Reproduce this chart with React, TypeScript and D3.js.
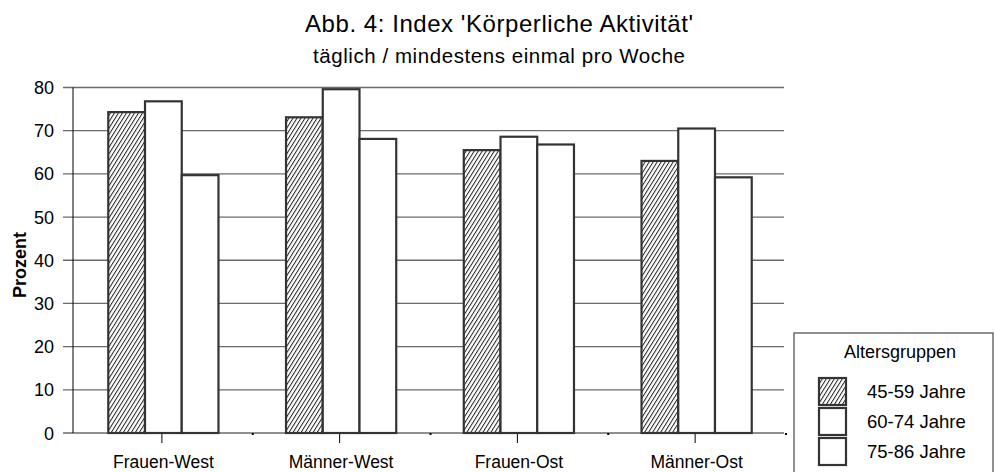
import React from "react";
import * as d3 from "d3";

const categories = ["Frauen-West", "Männer-West", "Frauen-Ost", "Männer-Ost"];
const seriesNames = ["45-59 Jahre", "60-74 Jahre", "75-86 Jahre"];
const values45_59 = [74.3, 73.1, 65.5, 63.0];
const values60_74 = [76.8, 79.6, 68.6, 70.5];
const values75_86 = [59.7, 68.1, 66.8, 59.2];
const yTicks = [0, 10, 20, 30, 40, 50, 60, 70, 80];
const titleText = "Abb. 4: Index 'Körperliche Aktivität'";
const subtitleText = "täglich / mindestens einmal pro Woche";
const yLabel = "Prozent";
const legendTitle = "Altersgruppen";

const W = 995;
const H = 472;
const FONT = "'Liberation Sans', Arial, Helvetica, sans-serif";

export default function App() {
  const series = [values45_59, values60_74, values75_86];
  const left = 73;
  const right = 784;
  const y = d3.scaleLinear().domain([0, 80]).range([433, 87.5]);
  const x0 = d3
    .scaleBand<string>()
    .domain(categories)
    .range([left, right])
    .paddingInner(0.38)
    .paddingOuter(0.19);
  const x1 = d3
    .scaleBand<string>()
    .domain(seriesNames)
    .range([0, x0.bandwidth()])
    .padding(0);
  const step = x0.step();
  const center = (c: string) => x0(c)! + x0.bandwidth() / 2;

  const fillFor = (i: number) => (i === 0 ? "url(#hatch)" : "#ffffff");

  return (
    <div style={{ position: "fixed", left: 0, top: 0 }}>
      <svg width={W} height={H} viewBox={`0 0 ${W} ${H}`} style={{ display: "block", background: "#fff" }}>
        <defs>
          <pattern id="hatch" patternUnits="userSpaceOnUse" width="3.4" height="4" patternTransform="rotate(32)">
            <rect width="3.4" height="4" fill="#fff" />
            <line x1="0.5" y1="0" x2="0.5" y2="4" stroke="#222" strokeWidth="1" />
          </pattern>
        </defs>
        <rect x={0} y={0} width={W} height={H} fill="#fff" />

        {/* title */}
        <text x={499} y={32} textAnchor="middle" fontFamily={FONT} fontSize={24} fill="#000"
          textLength={388} lengthAdjust="spacing">{titleText}</text>
        <text x={499} y={63} textAnchor="middle" fontFamily={FONT} fontSize={20.5} fill="#000"
          textLength={372} lengthAdjust="spacing">{subtitleText}</text>

        {/* gridlines */}
        {yTicks.map((t) => (
          <g key={t}>
            <line x1={63} x2={right} y1={y(t)} y2={y(t)} stroke="#6a6a6a" strokeWidth={1.3} />
            <text x={54} y={y(t) + 6.5} textAnchor="end" fontFamily={FONT} fontSize={18} fill="#000">{t}</text>
          </g>
        ))}
        {/* y axis */}
        <line x1={left} x2={left} y1={y(80)} y2={y(0)} stroke="#000" strokeWidth={1} />

        {/* x ticks at category centers and boundary dots */}
        {categories.map((c, i) => (
          <g key={c}>
            <line x1={center(c)} x2={center(c)} y1={y(0)} y2={y(0) + 10} stroke="#000" strokeWidth={1} />
            <rect x={left + step * (i + 1) + 1} y={y(0)} width={2} height={2} fill="#000" />
            <text x={center(c) + 1.5} y={468} textAnchor="middle" fontFamily={FONT} fontSize={17.5} fill="#000">{c}</text>
          </g>
        ))}

        {/* bars */}
        <g transform="translate(1.5,0)">
          {categories.map((c, ci) => (
            <g key={c} transform={`translate(${x0(c)},0)`}>
              {series.map((vals, si) => (
                <rect
                  key={si}
                  x={x1(seriesNames[si])}
                  y={y(vals[ci])}
                  width={x1.bandwidth()}
                  height={y(0) - y(vals[ci])}
                  fill={fillFor(si)}
                  stroke="#333"
                  strokeWidth={2.2}
                />
              ))}
            </g>
          ))}
        </g>

        {/* y label */}
        <text transform={`translate(26,265) rotate(-90)`} textAnchor="middle" fontFamily={FONT}
          fontSize={18} fontWeight="bold" fill="#000">{yLabel}</text>

        {/* legend */}
        <rect x={794} y={333} width={199} height={160} fill="#fff" stroke="#555" strokeWidth={1.3} />
        <text x={900} y={358} textAnchor="middle" fontFamily={FONT} fontSize={18} fill="#000">{legendTitle}</text>
        {seriesNames.map((s, i) => (
          <g key={s}>
            <rect x={819} y={378 + i * 30} width={27} height={27} fill={fillFor(i)} stroke="#333" strokeWidth={2.2} />
            <text x={867} y={398 + i * 30} fontFamily={FONT} fontSize={18.5} fill="#000">{s}</text>
          </g>
        ))}
      </svg>
    </div>
  );
}
